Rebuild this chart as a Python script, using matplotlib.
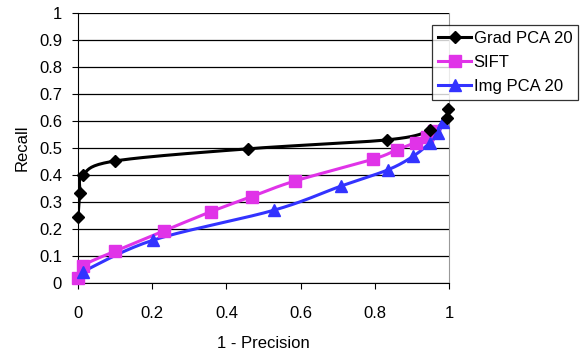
import numpy as np
import matplotlib
matplotlib.use("Agg")
import matplotlib.pyplot as plt
from matplotlib.lines import Line2D

plt.rcParams['font.family'] = ['Liberation Sans', 'DejaVu Sans']

# Recall vs. 1 - Precision for three descriptors
grad_x = [0.0, 0.005, 0.013, 0.10, 0.458, 0.832, 0.95, 0.994, 0.996]
grad_y = [0.244, 0.333, 0.40, 0.452, 0.497, 0.53, 0.565, 0.61, 0.645]

sift_x = [0.0, 0.014, 0.10, 0.233, 0.358, 0.468, 0.585, 0.794, 0.859, 0.91, 0.94, 0.96]
sift_y = [0.02, 0.064, 0.118, 0.194, 0.264, 0.32, 0.378, 0.458, 0.493, 0.52, 0.542, 0.563]

img_x = [0.013, 0.203, 0.529, 0.709, 0.835, 0.904, 0.949, 0.971, 0.983]
img_y = [0.042, 0.159, 0.27, 0.359, 0.419, 0.47, 0.52, 0.554, 0.597]

labels = ["Grad PCA 20", "SIFT", "Img PCA 20"]
colors = ["#000000", "#e033e8", "#3333ff"]
markers = ["D", "s", "^"]
msizes = [6, 8, 8]


def smooth(x, y, n=20):
    """Catmull-Rom curve through the points, like a smoothed line series."""
    x = np.asarray(x, float)
    y = np.asarray(y, float)
    px = np.concatenate([[x[0]], x, [x[-1]]])
    py = np.concatenate([[y[0]], y, [y[-1]]])
    ox, oy = [x[0]], [y[0]]
    t = np.linspace(0, 1, n)[1:]
    for i in range(1, len(px) - 2):
        p0x, p1x, p2x, p3x = px[i - 1:i + 3]
        p0y, p1y, p2y, p3y = py[i - 1:i + 3]
        # Bezier control points (tension 1/6)
        c1x = p1x + (p2x - p0x) / 6
        c1y = p1y + (p2y - p0y) / 6
        c2x = p2x - (p3x - p1x) / 6
        c2y = p2y - (p3y - p1y) / 6
        bx = (1 - t) ** 3 * p1x + 3 * (1 - t) ** 2 * t * c1x + 3 * (1 - t) * t ** 2 * c2x + t ** 3 * p2x
        by = (1 - t) ** 3 * p1y + 3 * (1 - t) ** 2 * t * c1y + 3 * (1 - t) * t ** 2 * c2y + t ** 3 * p2y
        ox.extend(bx)
        oy.extend(by)
    return np.array(ox), np.array(oy)


fig = plt.figure(figsize=(5.8, 3.57), dpi=100)
ax = fig.add_axes([78 / 580, 1 - 283 / 357, (449 - 78) / 580, (283 - 13) / 357])

ax.set_xlim(0, 1)
ax.set_ylim(0, 1)
ax.set_xticks(np.arange(0, 1.01, 0.2))
ax.set_xticklabels(["0", "0.2", "0.4", "0.6", "0.8", "1"])
ax.set_yticks(np.arange(0, 1.01, 0.1))
ax.set_yticklabels(["0", "0.1", "0.2", "0.3", "0.4", "0.5", "0.6", "0.7", "0.8", "0.9", "1"])
ax.grid(axis='y', color='black', linewidth=0.9)
ax.set_axisbelow(True)

series = [(sift_x, sift_y), (img_x, img_y), (grad_x, grad_y)]
order = [1, 2, 0]
for (xs, ys), k in zip(series, order):
    sx, sy = smooth(xs, ys)
    ax.plot(sx, sy, color=colors[k], linewidth=2.2, zorder=3)
    ax.plot(xs, ys, linestyle='none', marker=markers[k], color=colors[k],
            markersize=msizes[k], zorder=4, clip_on=False)

ax.spines['top'].set_visible(False)
ax.spines['right'].set_color('#999999')
ax.spines['left'].set_color('black')
ax.spines['bottom'].set_color('black')
ax.tick_params(axis='both', direction='out', length=4.5, labelsize=12, color='black')
ax.tick_params(axis='x', pad=12)
ax.tick_params(axis='y', pad=7)

ax.set_xlabel("1 - Precision", fontsize=12, labelpad=11)
ax.set_ylabel("Recall", fontsize=12, labelpad=7)

handles = [Line2D([0], [0], color=colors[k], marker=markers[k], linewidth=2.2,
                  markersize=msizes[k]) for k in range(3)]
leg = fig.legend(handles, labels, loc='upper left', bbox_to_anchor=(432 / 580, 1 - 25 / 357),
                 fontsize=12, frameon=True, fancybox=False, edgecolor='black',
                 handlelength=2.0, handletextpad=0.15, borderpad=0.35, labelspacing=0.55,
                 borderaxespad=0)
leg.get_frame().set_linewidth(0.9)

fig.savefig("out.png", dpi=100)
